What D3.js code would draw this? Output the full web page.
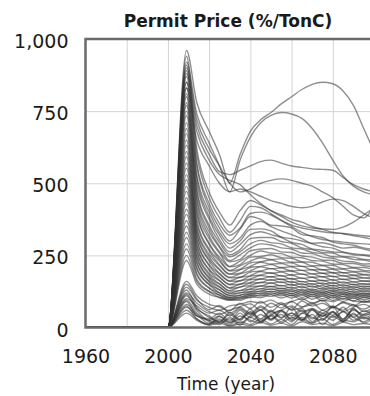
<!DOCTYPE html>
<html lang="en">
<head>
    <meta charset="utf-8">
    <title>Permit Price</title>
    <script src="https://d3js.org/d3.v7.min.js"></script>
    <style>
        body { margin: 0; background: #fff; }
        #chart text { font-family: "DejaVu Sans", sans-serif; fill: #1a1a1a; }
    </style>
</head>
<body>

<div id="chart"></div>

<script>

var years = [1960, 2000, 2009, 2014, 2020, 2025, 2030, 2035, 2040, 2045, 2050, 2055, 2060, 2065, 2070, 2075, 2080, 2085, 2090, 2095, 2100];

// high runs that break away after 2030
var highRuns = [
    [0,0,960,780,680,600,500,600,680,720,745,775,800,825,843,850,845,820,770,690,610],
    [0,0,920,740,640,560,470,580,660,710,735,745,740,725,690,640,580,525,490,470,460],
    [0,0,880,700,600,540,530,545,560,575,580,570,560,555,550,548,545,520,495,480,470],
    [0,0,850,680,580,530,510,495,460,430,405,385,365,352,345,342,340,348,365,390,415],
    [0,0,830,650,560,500,470,480,470,455,440,430,420,415,420,435,445,440,420,395,380],
    [0,0,900,720,620,560,500,470,480,500,510,515,510,500,490,470,450,420,390,380,420]
];

// the main bundle
var midRuns = [
    [0,0,940,620,470,400,355,405,440,425,405,390,375,365,350,340,330,325,318,312,305],
    [0,0,910,600,450,380,330,370,420,415,395,372,355,345,338,332,328,326,322,318,315],
    [0,0,890,570,430,360,320,345,395,400,390,370,350,330,315,305,300,296,292,290,288],
    [0,0,870,560,415,345,300,340,385,375,355,352,345,322,318,312,296,290,285,276,270],
    [0,0,850,530,400,330,290,310,355,368,350,335,322,308,292,294,285,275,278,272,262],
    [0,0,830,520,385,320,275,300,340,342,335,314,308,300,290,280,275,262,256,252,250],
    [0,0,810,500,375,305,262,288,322,332,322,312,295,288,272,268,262,260,252,250,242],
    [0,0,800,480,355,295,252,270,308,312,312,298,292,276,270,260,258,246,244,236,235],
    [0,0,780,470,345,282,245,262,290,302,294,290,276,272,260,256,245,244,236,234,226],
    [0,0,770,450,332,278,232,252,276,290,286,276,272,258,256,244,240,230,228,220,222],
    [0,0,750,440,318,262,228,236,266,272,274,262,260,248,244,234,232,222,222,214,212],
    [0,0,735,420,308,258,212,230,250,265,258,256,244,242,232,230,220,218,208,208,200],
    [0,0,710,405,292,244,210,218,244,246,252,242,240,228,226,216,216,204,206,198,196],
    [0,0,690,392,288,236,198,214,230,242,236,238,226,226,214,214,204,202,194,194,186],
    [0,0,672,375,272,230,196,202,224,228,234,224,224,212,212,200,202,190,192,184,184],
    [0,0,650,362,266,218,186,200,212,226,220,222,212,212,200,200,190,190,182,182,175],
    [0,0,632,348,254,214,184,188,208,212,218,208,210,198,200,188,190,178,180,172,174],
    [0,0,610,342,246,202,174,186,196,210,204,206,196,198,186,188,176,180,170,172,165],
    [0,0,592,328,236,200,172,174,192,196,204,194,196,184,186,176,178,166,170,160,164],
    [0,0,570,322,230,188,162,174,180,194,188,192,182,186,174,176,164,168,158,162,154],
    [0,0,552,308,218,186,160,162,178,182,190,178,182,170,174,162,166,154,158,150,154],
    [0,0,530,302,214,176,150,162,168,180,176,180,168,172,160,164,152,158,148,152,144],
    [0,0,512,288,202,174,148,150,166,168,176,166,170,158,162,150,156,144,150,140,146],
    [0,0,490,282,198,164,138,150,156,168,164,168,156,160,150,154,144,148,138,144,136],
    [0,0,472,268,188,162,136,140,154,156,166,156,160,148,152,140,146,136,142,132,138],
    [0,0,450,262,182,152,128,140,146,156,154,158,146,152,140,146,134,140,130,136,128],
    [0,0,432,248,174,150,126,128,142,144,154,144,150,138,144,132,138,128,134,124,132],
    [0,0,410,242,170,141,120,128,134,144,142,146,136,142,130,136,126,132,122,128,120],
    [0,0,392,228,162,140,118,120,132,134,142,134,140,128,134,122,130,120,126,116,124],
    [0,0,370,222,158,131,112,120,124,134,132,136,126,132,122,128,118,124,114,120,114],
    [0,0,352,208,150,130,110,112,124,126,134,126,132,120,128,116,124,114,120,110,118],
    [0,0,330,202,148,120,104,112,116,126,124,128,118,126,114,122,110,118,108,116,108],
    [0,0,312,188,138,120,104,104,118,118,126,118,126,112,122,108,118,106,116,104,112],
    [0,0,290,182,136,112,98,106,110,120,116,122,110,120,106,116,102,114,100,110,102],
    [0,0,272,168,126,112,100,98,112,110,120,110,118,104,116,100,112,98,110,96,106],
    [0,0,250,160,124,104,94,102,104,114,108,116,102,114,98,110,94,108,92,104,96],
    [0,0,232,150,116,104,96,94,106,104,114,102,112,96,110,92,106,90,104,88,100]
];

// low, ragged runs near zero
var lowRuns = [
    [0,0,130,70,35,20,45,25,55,30,60,35,50,25,65,40,55,30,60,45,50],
    [0,0,110,60,25,40,15,50,20,45,25,55,30,60,20,50,35,55,25,45,60],
    [0,0,95,50,20,10,35,15,40,60,30,45,20,50,35,25,55,20,45,30,40],
    [0,0,80,45,15,30,10,40,25,15,45,20,50,30,15,45,25,55,35,20,50],
    [0,0,70,40,25,15,30,8,35,20,40,15,35,25,45,10,40,20,50,15,35],
    [0,0,60,30,10,25,5,20,10,30,12,28,10,35,15,30,10,25,20,35,15],
    [0,0,120,85,55,45,60,70,50,75,55,80,60,70,85,60,75,55,70,80,65],
    [0,0,100,75,50,60,40,65,45,70,50,60,75,55,65,50,70,60,80,55,70],
    [0,0,50,25,8,15,5,12,6,18,8,15,5,20,10,15,6,18,10,14,8],
    [0,0,140,95,70,60,75,80,90,85,95,80,90,100,85,95,90,100,92,88,95],
    [0,0,160,110,80,72,58,84,66,90,70,86,62,92,74,84,68,88,78,64,84],
    [0,0,90,40,30,50,22,60,35,62,28,58,40,66,30,60,42,70,36,58,44],
    [0,0,115,65,40,18,52,28,64,20,56,32,70,26,60,38,72,28,64,40,56],
    [0,0,75,30,12,38,18,30,50,22,42,60,25,48,62,30,52,24,66,34,48],
    [0,0,150,100,62,76,50,72,82,60,84,68,90,72,80,94,70,86,74,92,80]
];

var yTicks = [0, 250, 500, 750, 1000];
var xLabelTicks = [1960, 2000, 2040, 2080];
var xGridTicks = [1980, 2000, 2020, 2040, 2060, 2080];

var W = 370, H = 396;
var pLeft = 85.5, pRight = 374, pTop = 39, pBottom = 327.5;

var svg = d3.select("#chart")
  .append("svg")
    .attr("width", W)
    .attr("height", H);

var x = d3.scaleLinear().domain([1960, 2100]).range([pLeft, pRight]);
var y = d3.scaleLinear().domain([0, 1000]).range([pBottom, pTop]);

// grid
svg.append("g")
    .attr("transform", "translate(0," + pBottom + ")")
    .call(d3.axisBottom(x).tickValues(xGridTicks).tickSize(-(pBottom - pTop)).tickFormat(""))
    .call(g => g.select(".domain").remove())
    .selectAll("line").attr("stroke", "#d4d4d4").attr("stroke-width", 1);

svg.append("g")
    .attr("transform", "translate(" + pLeft + ",0)")
    .call(d3.axisLeft(y).tickValues([250, 500, 750]).tickSize(-(pRight - pLeft)).tickFormat(""))
    .call(g => g.select(".domain").remove())
    .selectAll("line").attr("stroke", "#d4d4d4").attr("stroke-width", 1);

svg.append("clipPath").attr("id", "plotclip")
  .append("rect")
    .attr("x", pLeft).attr("y", pTop - 2)
    .attr("width", pRight - pLeft).attr("height", pBottom - pTop + 2);

var line = d3.line()
    .x(function(d, i) { return x(years[i]); })
    .y(function(d) { return y(d); })
    .curve(d3.curveMonotoneX);

var allRuns = highRuns.concat(midRuns, lowRuns);

svg.append("g")
    .attr("clip-path", "url(#plotclip)")
  .selectAll("path")
    .data(allRuns)
    .enter()
    .append("path")
      .attr("d", line)
      .attr("fill", "none")
      .attr("stroke", "#333")
      .attr("stroke-opacity", 0.55)
      .attr("stroke-width", 1.4);

// frame
svg.append("rect")
    .attr("x", pLeft).attr("y", pTop)
    .attr("width", pRight - pLeft).attr("height", pBottom - pTop)
    .attr("fill", "none")
    .attr("stroke", "#6a6a6a")
    .attr("stroke-width", 2.5);

// axes labels
svg.append("g")
    .attr("transform", "translate(" + (pLeft - 17) + ",0)")
    .call(d3.axisLeft(y).tickValues(yTicks).tickSize(0).tickFormat(d3.format(",")))
    .call(g => g.select(".domain").remove())
    .selectAll("text")
      .attr("x", 0)
      .attr("dy", "0.45em")
      .style("font-size", "19px");

svg.append("g")
    .attr("transform", "translate(0," + pBottom + ")")
    .call(d3.axisBottom(x).tickValues(xLabelTicks).tickSize(0).tickFormat(d3.format("d")))
    .call(g => g.select(".domain").remove())
    .selectAll("text")
      .attr("y", 35)
      .attr("dy", 0)
      .style("font-size", "19px");

svg.append("text")
    .attr("x", 228)
    .attr("y", 27)
    .attr("text-anchor", "middle")
    .style("font-size", "17px")
    .style("font-weight", "bold")
    .text("Permit Price (%/TonC)");

svg.append("text")
    .attr("x", 226)
    .attr("y", 390)
    .attr("text-anchor", "middle")
    .style("font-size", "17px")
    .text("Time (year)");

</script>
</body>
</html>
